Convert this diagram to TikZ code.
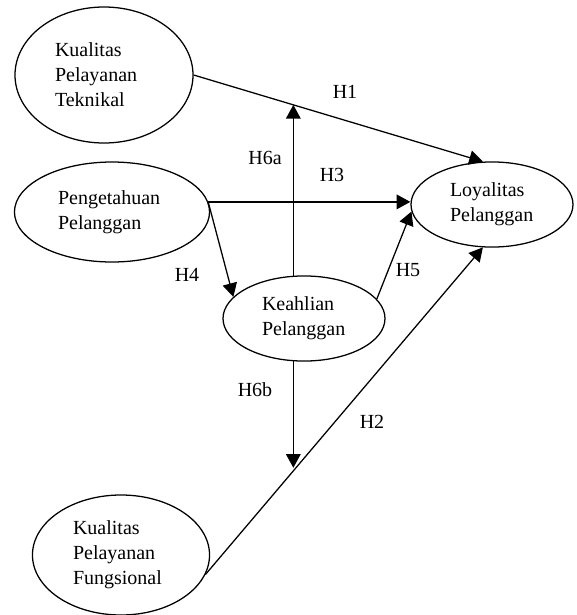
\documentclass[tikz,border=0pt]{standalone}
\usepackage{fontspec}
\setmainfont{Liberation Serif}
\usetikzlibrary{arrows.meta, shapes.geometric}

\tikzset{
  construct/.style={draw, ellipse, line width=0.7pt, inner sep=0pt, align=left,
    font=\fontsize{11}{13.75}\selectfont},
  hyp/.style={inner sep=0pt, font=\fontsize{11}{13.75}\selectfont},
  link/.style={line width=0.7pt, -{Triangle[length=7.5pt,width=8pt]}}
}

\begin{document}
\begin{tikzpicture}[x=0.55pt, y=-0.55pt]
\useasboundingbox (0,0) rectangle (576,615);

% nodes
\node[construct, minimum width=97.9pt, minimum height=74.8pt, text width=53.9pt] (kpt) at (104,75) {Kualitas\\Pelayanan\\Teknikal};
\node[construct, minimum width=107.3pt, minimum height=55pt, text width=59.4pt] (pp) at (112,212) {Pengetahuan\\Pelanggan};
\node[construct, minimum width=89.1pt, minimum height=46.8pt, text width=46.2pt] (lp) at (492,204.5) {Loyalitas\\Pelanggan};
\node[construct, minimum width=89.1pt, minimum height=46.8pt, text width=46.2pt] (kp) at (304,318.5) {Keahlian\\Pelanggan};
\node[construct, minimum width=97.4pt, minimum height=66pt, text width=52.8pt] (kpf) at (121,555) {Kualitas\\Pelayanan\\Fungsional};

\node[hyp] (h1) at (345,92) {H1};
\node[hyp] (h3) at (332,175) {H3};
\node[hyp] (h6a) at (265,158) {H6a};
\node[hyp] (h4) at (187,275) {H4};
\node[hyp] (h5) at (408,270) {H5};
\node[hyp] (h6b) at (255,390) {H6b};
\node[hyp] (h2) at (372,422) {H2};

% arrows
\draw [link] (kpt.east) -- coordinate[pos=0.345] (m1) (lp.102);
\draw [link] (kpf.-13) -- coordinate[pos=0.304] (m2) (lp.258);
\draw [link] (pp.6) -- (pp.6 -| lp.west);
\draw [link] (pp.6) -- (kp.163);
\draw [link] (kp.15) -- (lp.185);

\draw [link] (kp.104) -- (kp.104 |- m1);
\draw [link, shorten >=4pt] (kp.256) -- (kp.256 |- m2);

\end{tikzpicture}
\end{document}
